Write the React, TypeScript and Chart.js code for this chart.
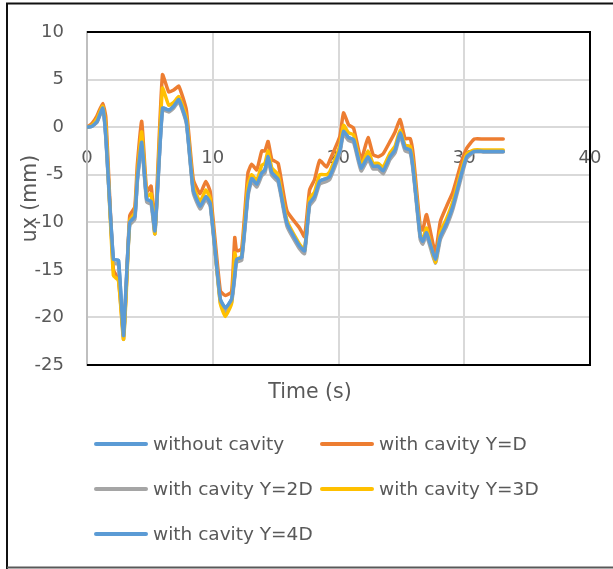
import React, { useEffect, useRef } from "react";
import { Chart, registerables } from "chart.js";

Chart.register(...registerables);

// ---- data ----
const TIME = [
  0, 0.4, 0.8, 1.25, 1.5, 2.1, 2.5, 2.9, 3.1, 3.4,
  3.8, 4.0, 4.35, 4.75, 5.1, 5.4, 6.0, 6.5, 6.9, 7.3,
  7.9, 8.45, 9.0, 9.45, 9.8, 10.6, 11.0, 11.5, 11.75, 11.9,
  12.3, 12.8, 13.1, 13.5, 13.9, 14.15, 14.4, 14.7, 15.2, 15.9,
  16.9, 17.3, 17.7, 18.1, 18.5, 19.05, 19.3, 20.1, 20.4, 20.8,
  21.2, 21.8, 22.35, 22.75, 23.15, 23.55, 24.1, 24.5, 24.9, 25.3,
  25.7, 25.95, 26.5, 26.7, 27.0, 27.7, 28.1, 28.6, 29.1, 29.8,
  30.2, 30.8, 31.5, 33.1,
];

const WITHOUT_CAVITY = [
  0, 0.1, 0.6, 2.0, -1.0, -13.9, -14.0, -22.0, -17.0, -10.0,
  -9.4, -5.5, -1.7, -7.6, -7.8, -10.9, 2.0, 1.8, 2.2, 2.9,
  0.6, -6.6, -8.3, -7.3, -8.0, -18.1, -19.0, -18.1, -15.5, -13.9,
  -13.7, -7.0, -5.4, -6.0, -4.8, -4.5, -3.1, -4.8, -5.5, -10.1,
  -12.5, -13.0, -8.0, -7.3, -5.7, -5.4, -5.2, -2.5, -0.45, -1.1,
  -1.3, -4.3, -3.1, -4.1, -4.1, -4.6, -3.1, -2.4, -0.6, -2.2,
  -2.4, -4.5, -11.5, -12.0, -11.1, -13.9, -11.5, -10.1, -8.3, -4.8,
  -3.1, -2.55, -2.55, -2.55,
];

const CAVITY_1D = [
  0, 0.4, 1.2, 2.5, 1.0, -15.0, -16.0, -21.8, -17.5, -9.3,
  -8.4, -4.0, 0.6, -6.8, -6.2, -10.7, 5.5, 3.7, 3.9, 4.3,
  1.8, -5.5, -7.0, -5.7, -6.8, -17.2, -17.7, -17.3, -11.6, -13.0,
  -12.8, -4.8, -3.9, -4.5, -2.5, -2.5, -1.5, -3.4, -3.8, -8.8,
  -10.6, -11.5, -6.6, -5.5, -3.5, -4.2, -3.5, -1.0, 1.5, 0.25,
  -0.1, -3.4, -1.1, -2.9, -3.1, -2.8, -1.5, -0.5, 0.8, -1.2,
  -1.2, -3.0, -10.5, -10.8, -9.2, -13.2, -9.9, -8.3, -6.8, -3.6,
  -2.2, -1.25, -1.25, -1.25,
];

const CAVITY_2D = [
  0, 0.1, 0.5, 1.9, -1.2, -14.3, -14.4, -22.3, -17.4, -10.3,
  -9.7, -5.8, -2.0, -7.9, -8.1, -11.2, 1.8, 1.6, 2.0, 2.7,
  0.4, -6.9, -8.6, -7.6, -8.3, -18.4, -19.4, -18.4, -15.8, -14.2,
  -14.0, -7.3, -5.7, -6.3, -5.1, -4.8, -3.4, -5.1, -5.8, -10.4,
  -12.8, -13.3, -8.3, -7.6, -6.0, -5.7, -5.5, -2.8, -0.7, -1.4,
  -1.6, -4.6, -3.4, -4.4, -4.4, -4.9, -3.4, -2.7, -0.9, -2.5,
  -2.7, -4.8, -11.8, -12.3, -11.4, -14.3, -11.8, -10.4, -8.6, -5.1,
  -3.3, -2.6, -2.6, -2.6,
];

const CAVITY_3D = [
  0, 0.2, 0.9, 2.2, 0, -15.6, -16.1, -22.3, -18.0, -9.8,
  -9.0, -5.0, -0.5, -7.3, -7.0, -11.2, 4.1, 2.3, 2.6, 3.2,
  1.0, -6.2, -7.8, -6.6, -7.5, -18.5, -19.9, -18.5, -13.2, -14.0,
  -13.5, -6.0, -5.0, -5.6, -4.0, -3.8, -2.5, -4.3, -5.0, -9.8,
  -12.3, -12.9, -7.5, -6.8, -5.0, -5.0, -4.7, -2.0, 0.2, -0.6,
  -0.8, -4.0, -2.5, -3.8, -3.8, -4.2, -2.7, -2.0, -0.3, -1.9,
  -2.0, -4.0, -11.3, -11.8, -10.6, -14.2, -11.0, -9.6, -7.8, -4.4,
  -2.8, -2.4, -2.4, -2.4,
];

const CAVITY_4D = [
  0, 0.1, 0.6, 2.0, -1.0, -13.9, -14.0, -21.9, -16.9, -10.0,
  -9.4, -5.5, -1.6, -7.6, -7.8, -10.9, 2.0, 1.8, 2.2, 2.9,
  0.6, -6.6, -8.3, -7.3, -8.0, -18.1, -19.0, -18.1, -15.5, -13.9,
  -13.7, -7.0, -5.4, -6.0, -4.8, -4.5, -3.1, -4.8, -5.5, -10.1,
  -12.5, -13.0, -8.0, -7.3, -5.7, -5.4, -5.2, -2.5, -0.45, -1.1,
  -1.3, -4.3, -3.1, -4.1, -4.1, -4.6, -3.1, -2.4, -0.6, -2.2,
  -2.4, -4.5, -11.5, -12.0, -11.1, -13.9, -11.5, -10.1, -8.3, -4.8,
  -3.1, -2.55, -2.55, -2.55,
];

const SERIES_NAMES = [
  "without cavity",
  "with cavity Y=D",
  "with cavity Y=2D",
  "with cavity Y=3D",
  "with cavity Y=4D",
];
const SERIES_VALUES = [WITHOUT_CAVITY, CAVITY_1D, CAVITY_2D, CAVITY_3D, CAVITY_4D];
const SERIES_COLORS = ["#5B9BD5", "#ED7D31", "#A5A5A5", "#FFC000", "#5B9BD5"];

const X_MIN = 0;
const X_MAX = 40;
const X_STEP = 10;
const Y_MIN = -25;
const Y_MAX = 10;
const Y_STEP = 5;
const X_TITLE = "Time (s)";
const Y_TITLE = "ux (mm)";

const FONT = "'DejaVu Sans', sans-serif";
const TEXT_COLOR = "#595959";

const framePlugin = {
  id: "frames",
  afterDraw(chart: any) {
    const { ctx, chartArea: a } = chart;
    ctx.save();
    // plot area border (top, right, bottom)
    ctx.strokeStyle = "#000000";
    ctx.lineWidth = 2;
    ctx.beginPath();
    ctx.moveTo(a.left, a.top);
    ctx.lineTo(a.right, a.top);
    ctx.lineTo(a.right, a.bottom);
    ctx.lineTo(a.left, a.bottom);
    ctx.stroke();
    // outer chart frame
    ctx.lineWidth = 2;
    ctx.strokeStyle = "#111111";
    ctx.beginPath();
    ctx.moveTo(7, 569);
    ctx.lineTo(7, 3.5);
    ctx.lineTo(613, 3.5);
    ctx.stroke();
    ctx.strokeStyle = "#595959";
    ctx.beginPath();
    ctx.moveTo(7, 567.5);
    ctx.lineTo(613, 567.5);
    ctx.stroke();
    // x axis title
    ctx.fillStyle = TEXT_COLOR;
    ctx.font = `20.5px ${FONT}`;
    ctx.textAlign = "center";
    ctx.textBaseline = "middle";
    ctx.fillText(X_TITLE, 310, 393);
    ctx.restore();
  },
};

function LegendItem({ name, color, x, y }: { name: string; color: string; x: number; y: number }) {
  return (
    <div style={{ position: "absolute", left: x, top: y - 15, height: 30, display: "flex", alignItems: "center" }}>
      <div style={{ width: 54, height: 3.5, borderRadius: 2, background: color }} />
      <span
        style={{
          marginLeft: 5,
          fontFamily: FONT,
          fontSize: 18.5,
          color: TEXT_COLOR,
          whiteSpace: "nowrap",
          lineHeight: 1,
        }}
      >
        {name}
      </span>
    </div>
  );
}

export default function App() {
  const canvasRef = useRef<HTMLCanvasElement | null>(null);

  useEffect(() => {
    if (!canvasRef.current) return;
    const datasets = SERIES_NAMES.map((name, i) => ({
      label: name,
      data: TIME.map((t, k) => ({ x: t, y: SERIES_VALUES[i][k] })),
      borderColor: SERIES_COLORS[i],
      backgroundColor: SERIES_COLORS[i],
      borderWidth: 3.5,
      pointRadius: 0,
      tension: 0.15,
      borderJoinStyle: "round" as const,
      borderCapStyle: "round" as const,
      fill: false,
      order: SERIES_NAMES.length - i,
    }));

    const chart = new Chart(canvasRef.current, {
      type: "line",
      data: { datasets },
      plugins: [framePlugin],
      options: {
        animation: false,
        responsive: false,
        maintainAspectRatio: false,
        layout: { padding: { left: 8, top: 32, right: 23, bottom: 204 } },
        plugins: {
          legend: { display: false },
          tooltip: { enabled: false },
        },
        scales: {
          x: {
            type: "linear",
            position: { y: 0 } as any,
            min: X_MIN,
            max: X_MAX,
            ticks: {
              stepSize: X_STEP,
              padding: 20,
              color: TEXT_COLOR,
              font: { family: FONT, size: 18 },
              maxRotation: 0,
            },
            grid: { color: "#D9D9D9", lineWidth: 2, drawTicks: false },
            border: { display: false },
            afterFit: (scale: any) => {
              scale.height = 0;
              scale.paddingLeft = 0;
              scale.paddingRight = 0;
              scale.paddingTop = 0;
              scale.paddingBottom = 0;
            },
          },
          y: {
            type: "linear",
            min: Y_MIN,
            max: Y_MAX,
            ticks: {
              stepSize: Y_STEP,
              padding: 23,
              color: TEXT_COLOR,
              font: { family: FONT, size: 18 },
            },
            grid: { color: "#D9D9D9", lineWidth: 2, drawTicks: false },
            border: { display: true, color: "#BFBFBF", width: 2 },
            title: {
              display: true,
              text: Y_TITLE,
              color: TEXT_COLOR,
              font: { family: FONT, size: 20.5 },
              padding: { top: 10, bottom: 0 },
            },
            afterFit: (scale: any) => {
              scale.width = 79;
              scale.paddingTop = 0;
              scale.paddingBottom = 0;
            },
          },
        },
      },
    });
    return () => chart.destroy();
  }, []);

  return (
    <div style={{ position: "absolute", left: 0, top: 0, width: 613, height: 569, background: "#fff" }}>
      <canvas ref={canvasRef} width={613} height={569} style={{ display: "block" }} />
      {SERIES_NAMES.map((name, i) => (
        <LegendItem
          key={name}
          name={name}
          color={SERIES_COLORS[i]}
          x={94 + (i % 2) * 226}
          y={444 + Math.floor(i / 2) * 45}
        />
      ))}
    </div>
  );
}
